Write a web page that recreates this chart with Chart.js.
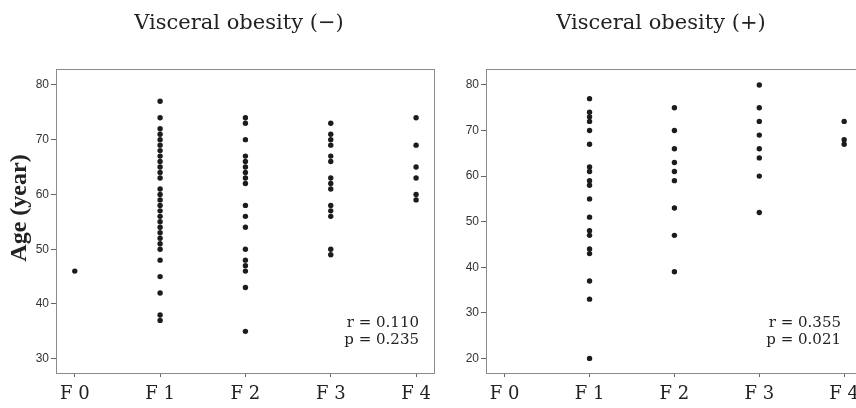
<!DOCTYPE html>
<html><head><meta charset="utf-8">
<script src="https://cdn.jsdelivr.net/npm/chart.js@4/dist/chart.umd.min.js"></script>
<style>
html,body{margin:0;padding:0;background:#fff;width:856px;height:408px;overflow:hidden;position:relative}
canvas{position:absolute;top:0}
#c1{left:0}
#c2{left:430px}
</style></head><body>
<canvas id="c1" width="440" height="408"></canvas>
<canvas id="c2" width="440" height="408"></canvas>
<script>
// ---- data ----
const stageLabels = ['F 0', 'F 1', 'F 2', 'F 3', 'F 4'];

// Visceral obesity (−): age per fibrosis stage
const negF0 = [46];
const negF1 = [77, 74, 72, 71, 70, 69, 68, 67, 66, 65, 64, 63, 61, 60, 59, 58, 57, 56, 55, 54, 53, 52, 51, 50, 48, 45, 42, 38, 37];
const negF2 = [74, 73, 70, 67, 66, 65, 64, 63, 62, 58, 56, 54, 50, 48, 47, 46, 43, 35];
const negF3 = [73, 71, 70, 69, 67, 66, 63, 62, 61, 58, 57, 56, 50, 49];
const negF4 = [74, 69, 65, 63, 60, 59];

// Visceral obesity (+): age per fibrosis stage
const posF0 = [];
const posF1 = [77, 74, 73, 72, 70, 67, 62, 61, 59, 58, 55, 51, 48, 47, 44, 43, 37, 33, 20];
const posF2 = [75, 70, 66, 63, 61, 59, 53, 47, 39];
const posF3 = [80, 75, 72, 69, 66, 64, 60, 52];
const posF4 = [72, 68, 67];

const yTicksNeg = [30, 40, 50, 60, 70, 80];
const yTicksPos = [20, 30, 40, 50, 60, 70, 80];

const titleNeg = 'Visceral obesity (−)';
const titlePos = 'Visceral obesity (+)';
const statsNeg = ['r = 0.110', 'p = 0.235'];
const statsPos = ['r = 0.355', 'p = 0.021'];
const yAxisTitle = 'Age (year)';

// ---- helpers ----
function toPoints(groups) {
  const pts = [];
  groups.forEach((g, i) => g.forEach(v => pts.push({ x: i, y: v })));
  return pts;
}

const SERIF = '"DejaVu Serif", serif';

function makeChart(id, groups, yTicks, yMin, yMax, cfg) {
  const textPlugin = {
    id: 'texts',
    beforeDatasetsDraw(chart) {
      const { ctx, chartArea: a } = chart;
      ctx.save();
      ctx.strokeStyle = '#8a8a8a';
      ctx.lineWidth = 1;
      ctx.strokeRect(Math.round(a.left) + 0.5, Math.round(a.top) + 0.5,
                     Math.round(a.right - a.left), Math.round(a.bottom - a.top));
      ctx.restore();
    },
    afterDraw(chart) {
      const { ctx, chartArea: a } = chart;
      ctx.save();
      ctx.fillStyle = '#222';
      ctx.font = '21px ' + SERIF;
      ctx.textAlign = 'center';
      ctx.textBaseline = 'alphabetic';
      ctx.fillText(cfg.title, cfg.titleX, 29);

      ctx.font = '15px ' + SERIF;
      ctx.textAlign = 'right';
      ctx.fillText(cfg.stats[0], a.right - cfg.statsInset, 327);
      ctx.fillText(cfg.stats[1], a.right - cfg.statsInset, 344);

      if (cfg.yTitle) {
        ctx.translate(20, 208);
        ctx.rotate(-Math.PI / 2);
        ctx.font = 'bold 24px "Liberation Serif", serif';
        ctx.textAlign = 'center';
        ctx.textBaseline = 'middle';
        ctx.fillText(cfg.yTitle, 0, 0);
      }
      ctx.restore();
    }
  };

  return new Chart(document.getElementById(id), {
    type: 'scatter',
    data: {
      datasets: [{
        data: toPoints(groups),
        pointRadius: 2.7,
        pointBackgroundColor: '#1c1c1c',
        pointBorderWidth: 0,
        pointHoverRadius: 2.7
      }]
    },
    options: {
      responsive: false,
      animation: false,
      events: [],
      layout: { padding: { left: 0, top: 69, right: cfg.padRight, bottom: 0 } },
      plugins: { legend: { display: false }, tooltip: { enabled: false }, title: { display: false } },
      scales: {
        x: {
          type: 'linear',
          min: -0.22,
          max: 4.21,
          afterFit(s) { s.height = 35; },
          afterBuildTicks(s) { s.ticks = stageLabels.map((_, i) => ({ value: i })); },
          border: { display: false },
          grid: { display: true, drawOnChartArea: false, drawTicks: true, tickLength: 4, color: '#666' },
          ticks: {
            autoSkip: false, maxRotation: 0, padding: 7,
            color: '#222',
            font: { family: SERIF, size: 18 },
            callback: v => stageLabels[v]
          }
        },
        y: {
          min: yMin,
          max: yMax,
          afterFit(s) { s.width = 56; },
          afterBuildTicks(s) { s.ticks = yTicks.map(v => ({ value: v })); },
          border: { display: false },
          grid: { display: true, drawOnChartArea: false, drawTicks: true, tickLength: 5, color: '#666' },
          ticks: {
            padding: 2,
            color: '#333',
            font: { family: '"Liberation Sans", Arial, sans-serif', size: 12 }
          }
        }
      }
    },
    plugins: [textPlugin]
  });
}

makeChart('c1', [negF0, negF1, negF2, negF3, negF4], yTicksNeg, 27.4, 82.9,
  { title: titleNeg, titleX: 239, stats: statsNeg, statsInset: 15, padRight: 6, yTitle: yAxisTitle });
makeChart('c2', [posF0, posF1, posF2, posF3, posF4], yTicksPos, 16.8, 83.5,
  { title: titlePos, titleX: 231, stats: statsPos, statsInset: 21, padRight: 8, yTitle: null });
</script>
</body></html>
